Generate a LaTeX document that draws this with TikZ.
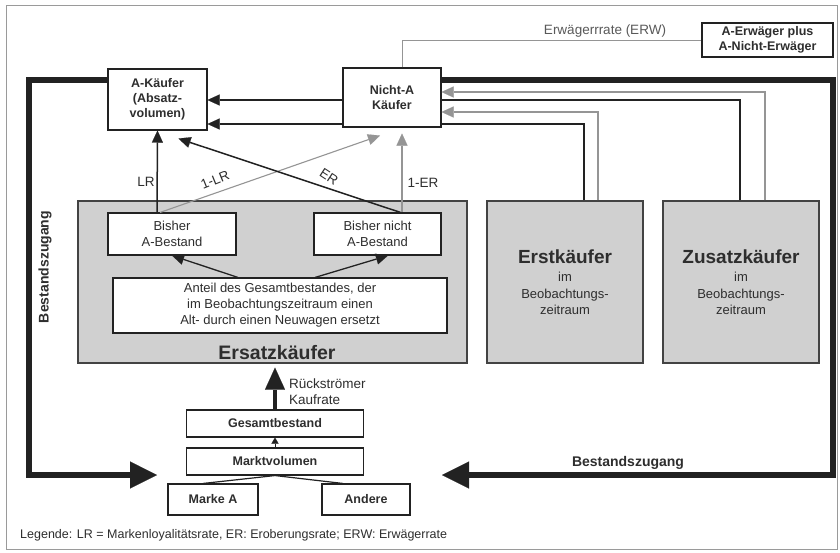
\documentclass[tikz,border=0pt]{standalone}
\usepackage{fontspec}
\setmainfont{Liberation Sans}
\usetikzlibrary{arrows.meta,calc}
\definecolor{ink}{HTML}{222222}
\definecolor{textink}{HTML}{2E2E2E}
\definecolor{flowgray}{HTML}{959595}
\definecolor{boxgray}{HTML}{D0D0D0}
\definecolor{framegray}{HTML}{9A9A9A}
\begin{document}
\begin{tikzpicture}[x=1pt,y=-1pt,
  wbox/.style={draw=ink, line width=1.1pt, fill=white, text=textink, align=center,
    inner sep=0pt, font=\fontsize{13}{16}\selectfont},
  bbox/.style={wbox, font=\fontsize{12.5}{15}\selectfont\bfseries},
  gbox/.style={draw=ink!85, line width=1.2pt, fill=boxgray, text=textink, align=center,
    inner sep=0pt, font=\fontsize{13}{16.5}\selectfont},
  lbl/.style={text=textink, font=\fontsize{13.5}{16}\selectfont, inner sep=0pt},
  flow/.style={draw=ink, line width=1.5pt, -{Triangle[length=12pt,width=11pt,line width=0.1pt]}},
  gflow/.style={draw=flowgray, line width=1.1pt, -{Triangle[length=12pt,width=11pt,line width=0.1pt]}},
  thickloop/.style={draw=ink, line width=6pt, -{Triangle[length=27pt,width=27pt,line width=0.1pt]}},
  thickline/.style={draw=ink, line width=6pt},
]
\useasboundingbox (0,0) rectangle (840,552);
\fill[white] (0,0) rectangle (840,552);
\draw[framegray, line width=0.8pt] (6,5) rectangle (837,549);

% --- buyer boxes ---
\node[bbox, minimum width=99pt, minimum height=61pt] (akaeufer) at (157.5,99.5)
  {A-Käufer\\(Absatz-\\volumen)};
\node[bbox, minimum width=131pt, minimum height=34pt] (erw) at (767.5,40)
  {A-Erwäger plus\\A-Nicht-Erwäger};

% --- replacement buyers block ---
\node[gbox, minimum width=389pt, minimum height=162pt] (ersatz) at (272.5,282) {};
\node[text=textink, font=\fontsize{19.5}{22}\selectfont\bfseries, inner sep=0pt]
  (ersatzname) at (277,353) {Ersatzkäufer};
\node[wbox, minimum width=128pt, minimum height=42pt] (bisherA) at (172,234)
  {Bisher\\A-Bestand};
\node[wbox, minimum width=127pt, minimum height=42pt] (bisherN) at (377.5,234)
  {Bisher nicht\\A-Bestand};
\node[wbox, minimum width=334pt, minimum height=55pt] (anteil) at (280,305.5)
  {Anteil des Gesamtbestandes, der\\im Beobachtungszeitraum einen\\Alt- durch einen Neuwagen ersetzt};

% --- first and additional buyers ---
\node[gbox, minimum width=156pt, minimum height=162pt] (erst) at (565,282)
  {{\fontsize{19}{22}\selectfont\bfseries Erstkäufer}\\[2pt]im\\Beobachtungs-\\zeitraum};
\node[gbox, minimum width=156pt, minimum height=162pt] (zusatz) at (741,282)
  {{\fontsize{19}{22}\selectfont\bfseries Zusatzkäufer}\\[2pt]im\\Beobachtungs-\\zeitraum};

% --- market stock chain ---
\node[bbox, minimum width=177pt, minimum height=27pt] (gesamt) at (275,423.5) {Gesamtbestand};
\node[bbox, minimum width=177pt, minimum height=27pt] (markt) at (275,461.5) {Marktvolumen};
\node[bbox, minimum width=90pt, minimum height=31pt] (markeA) at (213,499.5) {Marke A};
\node[bbox, minimum width=88pt, minimum height=31pt] (andere) at (366,499.5) {Andere};

% black flows into A-Käufer, running behind the Nicht-A box
\draw[flow] ($(zusatz.north)+(-1,0)$) |- ($(akaeufer.east)+(0,0.5)$);
\draw[flow] ($(erst.north)+(19,0)$) |- ($(akaeufer.east)+(0,24.5)$);

\node[bbox, minimum width=98pt, minimum height=59pt] (nichta) at (392,97.5)
  {Nicht-A\\Käufer};

% gray flows into Nicht-A
\draw[gflow] ($(zusatz.north)+(24,0)$) |- ($(nichta.east)+(0,-5.5)$);
\draw[gflow] ($(erst.north)+(33,0)$) |- ($(nichta.east)+(0,14.5)$);

% consideration rate
\draw[draw=flowgray, line width=0.9pt] ($(nichta.north)+(10,0)$) |- (erw.west);
\node[lbl, text=ink!75] (erwlabel) at (605,31) {Erwägerrrate (ERW)};

% loyalty / conquest flows
\draw[flow] ($(bisherA.north)+(-15,0)$) -- (akaeufer.south);
\draw[gflow] ($(bisherA.north)+(-12,0)$) -- ($(nichta.south)+(-12,8)$);
\draw[flow] ($(bisherN.north)+(23,0)$) -- ($(akaeufer.south)+(21,8)$);
\draw[gflow] ($(bisherN.north)+(24.5,0)$) -- ($(nichta.south)+(10,6)$);
\node[lbl] (lr) at (146,182) {LR};
\node[lbl, rotate=22] (onelr) at (215,180) {1-LR};
\node[lbl, rotate=-33] (er) at (329,177) {ER};
\node[lbl] (oneer) at (423,183) {1-ER};

% split of the replacement share
\draw[flow, line width=1.3pt] ($(anteil.north)+(-42,0)$) -- (bisherA.south);
\draw[flow, line width=1.3pt] ($(anteil.north)+(35,0)$) -- ($(bisherN.south)+(10.5,0)$);

% returning buyers
\draw[draw=ink, line width=3.5pt, -{Triangle[length=22pt,width=20pt,line width=0.1pt]}]
  (gesamt.north) -- ($(ersatz.south)+(2.5,4)$);
\node[lbl, align=left, anchor=west] (rueck) at (289,392) {Rückströmer\\Kaufrate};

\draw[draw=ink, line width=1pt, -{Triangle[length=6pt,width=7pt,line width=0.1pt]}]
  (markt.north) -- (gesamt.south);
\draw[draw=ink, line width=1.2pt] ($(markeA.north)+(-10,0)$) -- (markt.south);
\draw[draw=ink, line width=1.2pt] ($(andere.north)+(-23,0)$) -- (markt.south);

% stock inflow loops
\coordinate (lcorner) at (29,475);
\coordinate (ltip) at (157,475);
\coordinate (rcorner) at (833,475);
\coordinate (rtip) at (442,475);
\draw[thickline, line join=miter] ($(akaeufer.west)+(0,-19.5)$) -| (lcorner) -- ($(ltip)+(-20,0)$);
\draw[thickloop] ($(ltip)+(-24,0)$) -- (ltip);
\draw[thickline, line join=miter] ($(nichta.east)+(0,-17.5)$) -| (rcorner) -- ($(rtip)+(20,0)$);
\draw[thickloop] ($(rtip)+(24,0)$) -- (rtip);

\node[text=textink, font=\fontsize{14}{16}\selectfont\bfseries, inner sep=0pt]
  (zugangR) at (628,463) {Bestandszugang};
\node[text=textink, font=\fontsize{14}{16}\selectfont\bfseries, inner sep=0pt, rotate=90]
  (zugangL) at (45,267) {Bestandszugang};

% legend
\node[lbl, anchor=west, font=\fontsize{12.5}{15}\selectfont] (legende) at (20,535)
  {Legende: LR = Markenloyalitätsrate, ER: Eroberungsrate; ERW: Erwägerrate};
\end{tikzpicture}
\end{document}
